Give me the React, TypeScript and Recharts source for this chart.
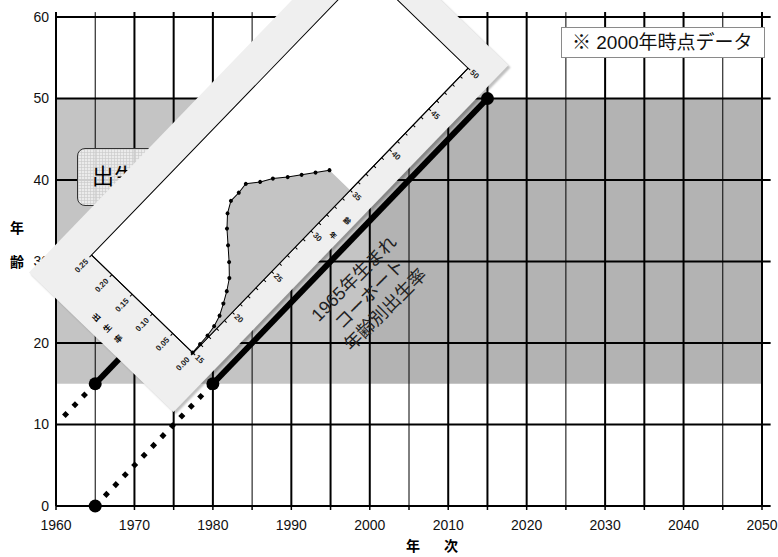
import React from "react";
import {
  ComposedChart,
  Line,
  Area,
  Scatter,
  XAxis,
  YAxis,
  ReferenceArea,
  ReferenceLine,
  ReferenceDot,
} from "recharts";

// ---- main Lexis diagram ----
const gridYears = [
  1960, 1965, 1970, 1975, 1980, 1985, 1990, 1995, 2000, 2005, 2010, 2015,
  2020, 2025, 2030, 2035, 2040, 2045, 2050,
];
const thinYears = [1965, 1985, 2005, 2025, 2045];
const gridAges = [0, 10, 20, 30, 40, 50, 60];

const reproStart = 15;
const reproEnd = 50;
const dataYear = 2000;

const cohort1950Dotted = [
  { year: 1961, age: 11 },
  { year: 1965, age: 15 },
];
const cohort1950Solid = [
  { year: 1965, age: 15 },
  { year: 2000, age: 50 },
];
const cohort1965Dotted = [
  { year: 1965, age: 0 },
  { year: 1980, age: 15 },
];
const cohort1965Solid = [
  { year: 1980, age: 15 },
  { year: 2015, age: 50 },
];
const cohortDots = [
  { year: 1965, age: 0 },
  { year: 1965, age: 15 },
  { year: 1980, age: 15 },
  { year: 2015, age: 50 },
];

// ---- inset: 1965 cohort age-specific fertility ----
const asfrAges = [
  15, 16, 17, 18, 19, 20, 21, 22, 23, 24, 25, 26, 27, 28, 29, 30, 31, 32, 33,
  34, 35,
];
const asfrValues = [
  0.001, 0.002, 0.003, 0.006, 0.012, 0.022, 0.033, 0.046, 0.066, 0.088, 0.11,
  0.128, 0.139, 0.139, 0.141, 0.125, 0.113, 0.096, 0.081, 0.066, 0.051,
];
const insetAgeTicks = Array.from({ length: 36 }, (_, i) => 15 + i);
const insetRateTicks = [0, 0.05, 0.1, 0.15, 0.2, 0.25];

const asfrData = asfrAges.map((a, i) => ({ age: a, rate: asfrValues[i] }));

const LATIN = "'Liberation Sans', Arial, sans-serif";
const JP = "'Liberation Sans', 'Noto Sans CJK JP', sans-serif";

const tickStyle = { fill: "#111", fontSize: 14, fontFamily: LATIN };

function InsetAgeTick(props: any) {
  const { x, y, payload } = props;
  if (payload.value % 5 !== 0) return <g />;
  const cy = y + 4;
  return (
    <text
      x={x}
      y={cy}
      transform={`rotate(90 ${x} ${cy})`}
      textAnchor="middle"
      dominantBaseline="central"
      fontSize={8}
      fontWeight="bold"
      fontFamily={LATIN}
      fill="#222"
    >
      {payload.value}
    </text>
  );
}

function Inset() {
  return (
    <div
      style={{
        position: "absolute",
        left: 193 - 56,
        top: 353 - 174,
        width: 482,
        height: 201,
        background: "#efefef",
        transform: "rotate(-46deg)",
        transformOrigin: "56px 174px",
        boxShadow: "0 3px 2px rgba(0,0,0,0.25)",
      }}
    >
      <ComposedChart
        width={482}
        height={201}
        data={asfrData}
        margin={{ top: 33, right: 30, bottom: 7, left: 10 }}
      >
        <XAxis
          dataKey="age"
          type="number"
          domain={[15, 50]}
          ticks={insetAgeTicks}
          interval={0}
          tick={<InsetAgeTick />}
          tickSize={3}
          tickMargin={2}
          height={20}
          axisLine={{ stroke: "#000", strokeWidth: 1 }}
          tickLine={{ stroke: "#000" }}
          label={{
            content: (p: any) => {
              const vb = p.viewBox;
              const cx = vb.x + vb.width / 2;
              const y = vb.y + 19;
              return (
                <g fontSize={7} fontWeight="bold" fontFamily={JP} fill="#000">
                  <text
                    x={cx - 16}
                    y={y}
                    transform={`rotate(90 ${cx - 16} ${y})`}
                    textAnchor="middle"
                    dominantBaseline="central"
                  >
                    年
                  </text>
                  <text
                    x={cx + 4}
                    y={y}
                    transform={`rotate(90 ${cx + 4} ${y})`}
                    textAnchor="middle"
                    dominantBaseline="central"
                  >
                    齢
                  </text>
                </g>
              );
            },
          }}
        />
        <YAxis
          type="number"
          domain={[0, 0.25]}
          ticks={insetRateTicks}
          interval={0}
          width={46}
          tickSize={3}
          tickMargin={4}
          tickFormatter={(v) => Number(v).toFixed(2)}
          tick={{ fill: "#222", fontSize: 8, fontWeight: "bold", fontFamily: LATIN }}
          axisLine={{ stroke: "#000", strokeWidth: 1 }}
          tickLine={{ stroke: "#000" }}
          label={{
            content: (p: any) => {
              const vb = p.viewBox;
              const x = vb.x + 4.5;
              const mid = vb.y + vb.height / 2 - 8;
              return (
                <g fontSize={8} fontWeight="bold" fontFamily={JP} fill="#000">
                  {["出", "生", "率"].map((c, i) => (
                    <text
                      key={c}
                      x={x}
                      y={mid + (i - 1) * 15.5}
                      textAnchor="middle"
                      dominantBaseline="central"
                    >
                      {c}
                    </text>
                  ))}
                </g>
              );
            },
          }}
        />
        <ReferenceArea
          x1={15}
          x2={50}
          y1={0}
          y2={0.25}
          fill="#fff"
          fillOpacity={1}
          stroke="#000"
          strokeWidth={1}
        />
        <Area
          type="linear"
          dataKey="rate"
          fill="#c4c4c4"
          fillOpacity={1}
          stroke="#000"
          strokeWidth={1}
          dot={{ r: 2, fill: "#000", stroke: "#000", strokeWidth: 0 }}
          activeDot={false}
          isAnimationActive={false}
        />
      </ComposedChart>
    </div>
  );
}

export default function App() {
  return (
    <div
      style={{
        position: "absolute",
        left: 0,
        top: 0,
        width: 778,
        height: 557,
        background: "#fff",
        overflow: "hidden",
      }}
    >
      <ComposedChart
        width={778}
        height={557}
        margin={{ top: 17, right: 16, bottom: 21, left: 16 }}
      >
        <XAxis
          dataKey="year"
          type="number"
          domain={[1960, 2050]}
          ticks={gridYears}
          interval={0}
          tickFormatter={(v) => (v % 10 === 0 ? String(v) : "")}
          tick={tickStyle}
          tickSize={4}
          tickMargin={10}
          height={30}
          axisLine={false}
          tickLine={{ stroke: "#000", strokeWidth: 1.5 }}
          label={{
            content: (p: any) => {
              const vb = p.viewBox;
              return (
                <g fontSize={14} fontWeight="bold" fontFamily={JP} fill="#000">
                  <text x={413} y={vb.y + 40} textAnchor="middle" dominantBaseline="central">
                    年
                  </text>
                  <text x={451} y={vb.y + 40} textAnchor="middle" dominantBaseline="central">
                    次
                  </text>
                </g>
              );
            },
          }}
        />
        <YAxis
          dataKey="age"
          type="number"
          domain={[0, 60]}
          ticks={gridAges}
          interval={0}
          width={40}
          tick={tickStyle}
          tickSize={5}
          tickMargin={2}
          tickLine={false}
          axisLine={false}
          label={{
            content: (p: any) => {
              const vb = p.viewBox;
              const mid = vb.y + vb.height / 2;
              return (
                <g fontSize={14} fontWeight="bold" fontFamily={JP} fill="#000">
                  <text x={vb.x + 1} y={mid - 34} textAnchor="middle" dominantBaseline="central">
                    年
                  </text>
                  <text x={vb.x + 1} y={mid} textAnchor="middle" dominantBaseline="central">
                    齢
                  </text>
                </g>
              );
            },
          }}
        />

        {/* reproductive-age band, observed vs later */}
        <ReferenceArea
          x1={1960}
          x2={dataYear}
          y1={reproStart}
          y2={reproEnd}
          fill="#c4c4c4"
          fillOpacity={1}
          stroke="none"
        />
        <ReferenceArea
          x1={dataYear}
          x2={2050}
          y1={reproStart}
          y2={reproEnd}
          fill="#b3b3b3"
          fillOpacity={1}
          stroke="none"
        />

        {gridYears.map((yr) => (
          <ReferenceLine
            key={"v" + yr}
            segment={[
              { x: yr, y: 0 },
              { x: yr, y: 60.6 },
            ]}
            stroke="#000"
            strokeWidth={thinYears.includes(yr) ? 1 : 2}
            ifOverflow="visible"
          />
        ))}
        {gridAges.map((a) => (
          <ReferenceLine
            key={"h" + a}
            segment={[
              { x: 1960, y: a },
              { x: 2051.1, y: a },
            ]}
            stroke="#000"
            strokeWidth={2}
            ifOverflow="visible"
          />
        ))}

        <Line
          data={cohort1950Dotted}
          dataKey="age"
          stroke="#000"
          strokeWidth={5}
          strokeDasharray="5 8.6"
          strokeLinecap="butt"
          dot={false}
          activeDot={false}
          isAnimationActive={false}
        />
        <Line
          data={cohort1965Dotted}
          dataKey="age"
          stroke="#000"
          strokeWidth={5}
          strokeDasharray="5 8.6"
          strokeLinecap="butt"
          dot={false}
          activeDot={false}
          isAnimationActive={false}
        />
        <Line
          data={cohort1950Solid}
          dataKey="age"
          stroke="#000"
          strokeWidth={6}
          dot={false}
          activeDot={false}
          isAnimationActive={false}
        />
        <Line
          data={cohort1965Solid}
          dataKey="age"
          stroke="#000"
          strokeWidth={6}
          dot={false}
          activeDot={false}
          isAnimationActive={false}
        />
        <Scatter
          data={cohortDots}
          dataKey="age"
          fill="#000"
          shape={(p: any) => <circle cx={p.cx} cy={p.cy} r={6.5} fill="#000" />}
          isAnimationActive={false}
        />

        <ReferenceDot
          x={2000}
          y={26}
          r={0}
          ifOverflow="visible"
          shape={(p: any) => (
            <text
              transform={`rotate(-45 ${p.cx} ${p.cy})`}
              x={p.cx}
              y={p.cy + 6}
              textAnchor="middle"
              fontSize={18}
              fontFamily={JP}
              fill="#222"
            >
              <tspan x={p.cx} dy={-22}>
                1965年生まれ
              </tspan>
              <tspan x={p.cx} dy={22}>
                コーホート
              </tspan>
              <tspan x={p.cx} dy={22}>
                年齢別出生率
              </tspan>
            </text>
          )}
        />
      </ComposedChart>

      <div
        style={{
          position: "absolute",
          left: 77,
          top: 148,
          width: 130,
          height: 58,
          boxSizing: "border-box",
          border: "1px solid #333",
          borderRadius: 8,
          backgroundColor: "rgba(242,242,242,0.85)",
          backgroundImage:
            "linear-gradient(rgba(205,205,205,0.7) 1px, transparent 1px), linear-gradient(90deg, rgba(205,205,205,0.7) 1px, transparent 1px)",
          backgroundSize: "3px 3px",
          fontFamily: JP,
          fontSize: 22,
          lineHeight: "56px",
          paddingLeft: 14,
          color: "#000",
          whiteSpace: "nowrap",
        }}
      >
        出生率
      </div>

      <div
        style={{
          position: "absolute",
          left: 561,
          top: 27,
          width: 204,
          height: 31,
          boxSizing: "border-box",
          border: "1px solid #8a8a8a",
          background: "#fff",
          fontFamily: JP,
          fontSize: 19,
          lineHeight: "29px",
          paddingLeft: 10,
          color: "#111",
          whiteSpace: "nowrap",
        }}
      >
        ※ 2000年時点データ
      </div>

      <Inset />
    </div>
  );
}
